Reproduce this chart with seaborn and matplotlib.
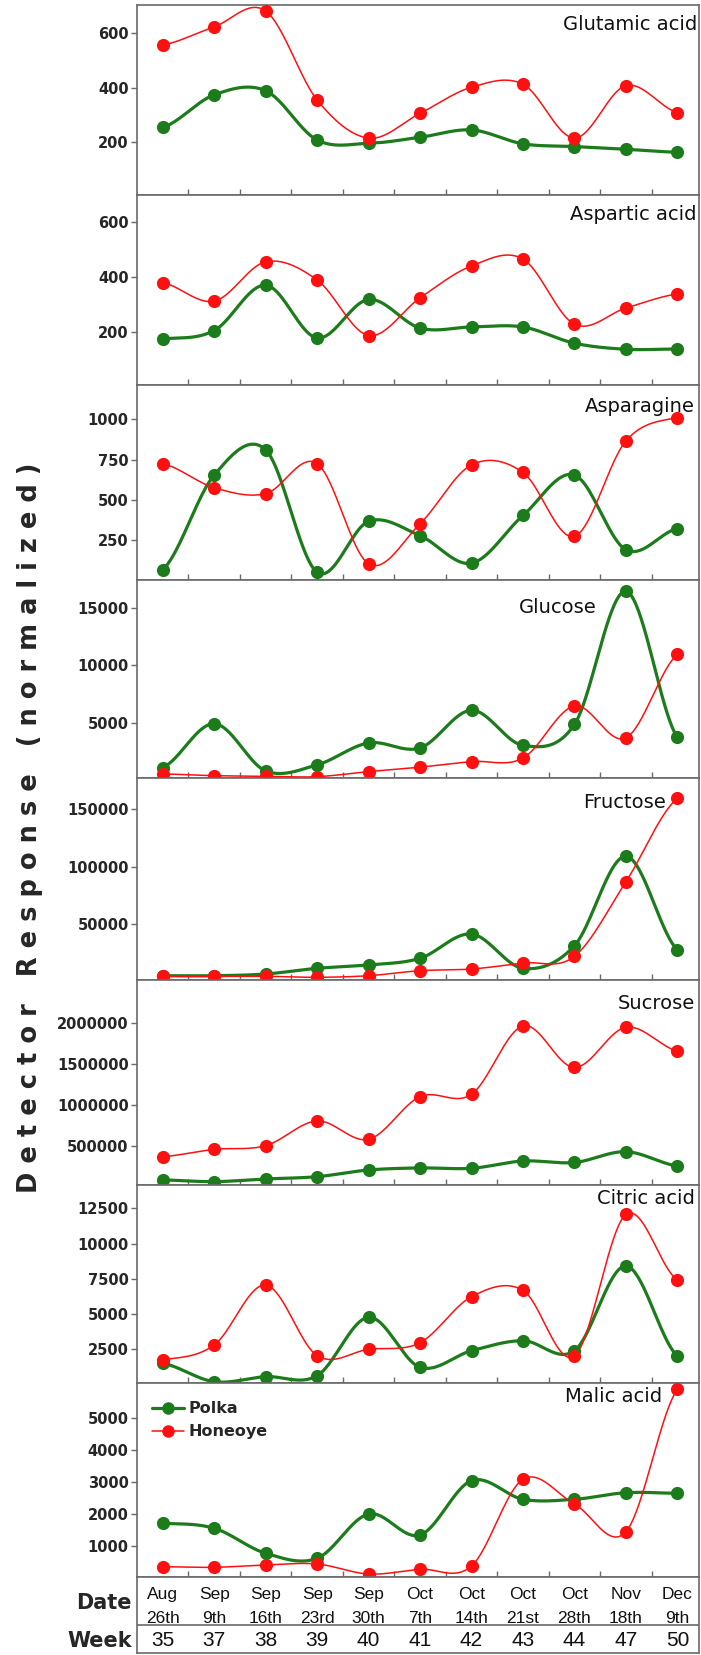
import numpy as np
import matplotlib
matplotlib.use("Agg")
import matplotlib.pyplot as plt
from matplotlib.lines import Line2D
import seaborn as sns

sns.set_style("white")
plt.rcParams["font.family"] = ["DejaVu Sans"]

# ---- data -------------------------------------------------------------
months = ["Aug", "Sep", "Sep", "Sep", "Sep", "Oct", "Oct", "Oct", "Oct", "Nov", "Dec"]
days = ["26th", "9th", "16th", "23rd", "30th", "7th", "14th", "21st", "28th", "18th", "9th"]
weeks = [35, 37, 38, 39, 40, 41, 42, 43, 44, 47, 50]

compounds = ["Glutamic acid", "Aspartic acid", "Asparagine", "Glucose",
             "Fructose", "Sucrose", "Citric acid", "Malic acid"]

polka_glutamic = [254, 374, 389, 208, 196, 218, 245, 194, 184, 174, 163]
honeoye_glutamic = [557, 624, 682, 355, 215, 306, 402, 413, 215, 408, 309]

polka_aspartic = [177, 207, 372, 180, 320, 216, 220, 220, 161, 139, 140]
honeoye_aspartic = [381, 314, 457, 391, 189, 326, 442, 467, 230, 289, 340]

polka_asparagine = [68, 654, 810, 53, 368, 279, 109, 404, 654, 192, 323]
honeoye_asparagine = [725, 576, 539, 725, 105, 353, 717, 670, 275, 865, 1010]

polka_glucose = [1081, 4912, 790, 1320, 3235, 2794, 6086, 3023, 4850, 16474, 3729]
honeoye_glucose = [525, 375, 322, 287, 728, 1117, 1611, 1911, 6465, 3676, 10966]

polka_fructose = [5040, 5040, 6520, 11480, 14350, 20170, 41300, 11480, 31130, 108900, 27650]
honeoye_fructose = [4520, 4520, 4520, 3650, 5040, 9390, 10870, 16090, 21910, 86780, 159300]

polka_sucrose = [80000, 59000, 92000, 120000, 202000, 227000, 223000, 312000, 294000, 426000, 251000]
honeoye_sucrose = [365000, 455000, 500000, 803000, 578000, 1101000, 1130000, 1967000,
                   1458000, 1951000, 1660000]

polka_citric = [1507, 203, 560, 630, 4770, 1224, 2400, 3110, 2400, 8405, 2025]
honeoye_citric = [1760, 2805, 7055, 2050, 2500, 2970, 6230, 6680, 2025, 12060, 7415]

polka_malic = [1700, 1544, 763, 606, 1990, 1334, 3032, 2450, 2450, 2656, 2637]
honeoye_malic = [344, 325, 397, 428, 116, 263, 366, 3075, 2303, 1437, 5887]

polka_series = [polka_glutamic, polka_aspartic, polka_asparagine, polka_glucose,
                polka_fructose, polka_sucrose, polka_citric, polka_malic]
honeoye_series = [honeoye_glutamic, honeoye_aspartic, honeoye_asparagine, honeoye_glucose,
                  honeoye_fructose, honeoye_sucrose, honeoye_citric, honeoye_malic]

y_ticks = [
    [200, 400, 600],
    [200, 400, 600],
    [250, 500, 750, 1000],
    [5000, 10000, 15000],
    [50000, 100000, 150000],
    [500000, 1000000, 1500000, 2000000],
    [2500, 5000, 7500, 10000, 12500],
    [1000, 2000, 3000, 4000, 5000],
]

# ---- layout -----------------------------------------------------------
W, H = 701, 1655
y_limits = [(6, 704), (9, 700), (5, 1211), (170, 17470), (1300, 177000),
            (18000, 2530000), (110, 14150), (22, 6084)]
panel_edges = [5, 195, 385, 580, 778, 980, 1185, 1383, 1577]
ax_left, ax_right = 137, 699
title_pos = [(697, 24), (697, 215), (695, 407), (597, 607), (666, 802),
             (695, 1003), (695, 1199), (662, 1397)]

GREEN = "#1c7c1c"
RED = "#ff1010"
SPINE = "#6a6a6a"


def catmull_rom(values, steps=40):
    """Smoothed curve through equally spaced points."""
    p = np.asarray(values, dtype=float)
    m = len(p)
    xs, ys = [], []
    t = np.linspace(0, 1, steps, endpoint=False)
    for i in range(m - 1):
        p0 = p[max(i - 1, 0)]
        p1 = p[i]
        p2 = p[i + 1]
        p3 = p[min(i + 2, m - 1)]
        yy = 0.5 * (2 * p1 + (-p0 + p2) * t + (2 * p0 - 5 * p1 + 4 * p2 - p3) * t ** 2
                    + (-p0 + 3 * p1 - 3 * p2 + p3) * t ** 3)
        xs.append(i + t)
        ys.append(yy)
    xs.append([m - 1])
    ys.append([p[-1]])
    return np.concatenate(xs), np.concatenate(ys)


def px_axes(left, top, right, bottom):
    return fig.add_axes([left / W, 1 - bottom / H, (right - left) / W, (bottom - top) / H])


fig = plt.figure(figsize=(W / 100, H / 100), dpi=100)
fig.patch.set_facecolor("white")

n = len(weeks)
xcat = np.arange(n)
xlim = (-0.5, 10.42)

for k, name in enumerate(compounds):
    ax = px_axes(ax_left, panel_edges[k], ax_right, panel_edges[k + 1])
    ax.set_facecolor("white")
    for vals, col, lw in ((polka_series[k], GREEN, 2.3), (honeoye_series[k], RED, 1.1)):
        sx, sy = catmull_rom(vals)
        sns.lineplot(x=sx, y=sy, ax=ax, color=col, linewidth=lw, sort=False,
                     estimator=None, legend=False, zorder=2)
        sns.scatterplot(x=xcat, y=vals, ax=ax, color=col, s=90, linewidth=0,
                        legend=False, zorder=3)
    ax.set_xlim(*xlim)
    ax.set_ylim(*y_limits[k])
    ax.set_yticks(y_ticks[k])
    ax.set_yticklabels([str(v) for v in y_ticks[k]], fontweight="bold", fontsize=10.5)
    ax.set_xticks(np.arange(n - 1) + 0.5)
    ax.set_xticklabels([])
    ax.tick_params(axis="x", direction="in", length=4, width=1, color=SPINE, bottom=True)
    ax.tick_params(axis="y", direction="out", length=4, width=1, color=SPINE, left=True, pad=2)
    ax.set_xlabel("")
    ax.set_ylabel("")
    for sp in ax.spines.values():
        sp.set_color(SPINE)
        sp.set_linewidth(1.2)
    tx, ty = title_pos[k]
    fig.text(tx / W, 1 - ty / H, name, ha="right", va="center", fontsize=14,
             color="#111111")
    if k == len(compounds) - 1:
        handles = [Line2D([], [], color=GREEN, lw=2.3, marker="o", markersize=9,
                          markeredgewidth=0),
                   Line2D([], [], color=RED, lw=1.1, marker="o", markersize=9,
                          markeredgewidth=0)]
        ax.legend(handles, ["Polka", "Honeoye"], loc="upper left", frameon=False,
                  bbox_to_anchor=(0.01, 0.955), handlelength=2.0, handletextpad=0.25,
                  labelspacing=0.5, borderaxespad=0.2,
                  prop={"weight": "bold", "size": 11.5})

# ---- date / week table ------------------------------------------------
tab = px_axes(ax_left, 1577, ax_right, 1653)
tab.set_xlim(*xlim)
tab.set_ylim(1653, 1577)
tab.set_xticks([])
tab.set_yticks([])
for sp in tab.spines.values():
    sp.set_color(SPINE)
    sp.set_linewidth(1.2)
tab.axhline(1625, color=SPINE, linewidth=1.2)
for i in range(n):
    tab.text(i, 1598.5, months[i], ha="center", va="baseline", fontsize=12.5,
             family="Liberation Sans", color="#111111")
    tab.text(i, 1623, days[i], ha="center", va="baseline", fontsize=12.5,
             family="Liberation Sans", color="#111111")
    tab.text(i, 1646, str(weeks[i]), ha="center", va="baseline", fontsize=15,
             family="Liberation Sans", color="#111111")
fig.text(132 / W, 1 - 1609 / H, "Date", ha="right", va="baseline", fontsize=15,
         fontweight="bold")
fig.text(132 / W, 1 - 1647 / H, "Week", ha="right", va="baseline", fontsize=15,
         fontweight="bold")

# ---- shared y label ---------------------------------------------------
ylabel = "   ".join(" ".join(word) for word in ["Detector", "Response", "(normalized)"])
fig.text(30 / W, 1 - 828 / H, ylabel, rotation=90, ha="center", va="center",
         fontsize=18.5, fontweight="bold")

fig.savefig("out.png", dpi=100, facecolor="white")
